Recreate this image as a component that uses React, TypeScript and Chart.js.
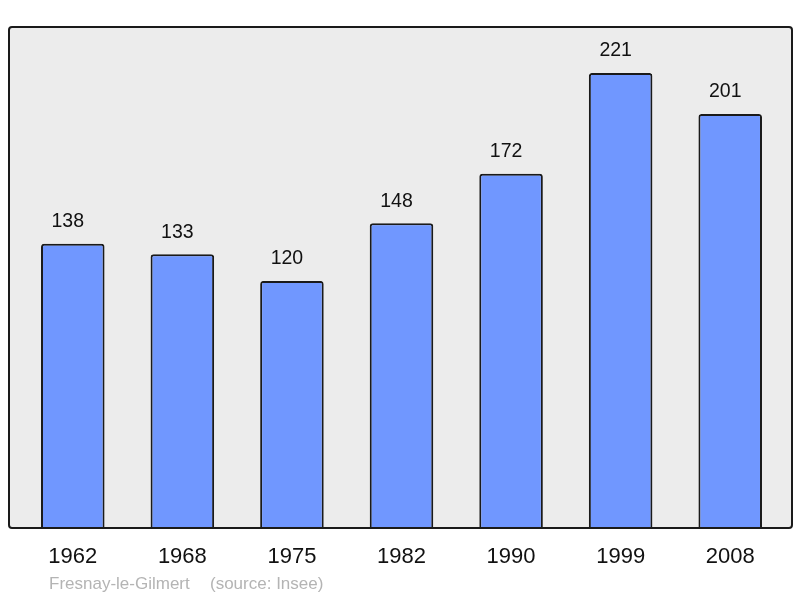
import { useEffect, useRef } from "react";
import { Chart, registerables } from "chart.js";

Chart.register(...registerables);

const years = ["1962", "1968", "1975", "1982", "1990", "1999", "2008"];
const population = [138, 133, 120, 148, 172, 221, 201];
const yMax = 243.3;
const townName = "Fresnay-le-Gilmert";
const sourceText = "(source: Insee)";

const FONT = "'Liberation Sans', Arial, sans-serif";

const framePlugin = {
  id: "frame",
  beforeDraw(chart: any) {
    const { ctx } = chart;
    ctx.save();
    ctx.fillStyle = "#ffffff";
    ctx.fillRect(0, 0, chart.width, chart.height);
    ctx.beginPath();
    ctx.roundRect(9, 27, 783, 501, 3);
    ctx.fillStyle = "#ececec";
    ctx.fill();
    ctx.restore();
  },
  afterDraw(chart: any) {
    const { ctx } = chart;
    const x = chart.scales.x;
    const y = chart.scales.y;
    ctx.save();
    ctx.beginPath();
    ctx.roundRect(9, 27, 783, 501, 3);
    ctx.lineWidth = 2;
    ctx.strokeStyle = "#1a1a1a";
    ctx.stroke();

    ctx.fillStyle = "#111111";
    ctx.textAlign = "center";
    ctx.textBaseline = "middle";
    ctx.font = `19.5px ${FONT}`;
    population.forEach((v, i) => {
      ctx.fillText(String(v), x.getPixelForValue(i) - 5, y.getPixelForValue(v) - 22);
    });
    ctx.font = `22px ${FONT}`;
    years.forEach((yr, i) => {
      ctx.fillText(yr, x.getPixelForValue(i), 557);
    });

    ctx.fillStyle = "#b4b4b4";
    ctx.textAlign = "left";
    ctx.font = `17px ${FONT}`;
    ctx.fillText(townName, 49, 584);
    ctx.fillText(sourceText, 210, 584);
    ctx.restore();
  },
};

export default function App() {
  const canvasRef = useRef<HTMLCanvasElement>(null);
  const chartRef = useRef<any>(null);

  useEffect(() => {
    document.body.style.margin = "0";
    if (!canvasRef.current) return;
    chartRef.current?.destroy();
    chartRef.current = new Chart(canvasRef.current, {
      type: "bar",
      data: {
        labels: years,
        datasets: [
          {
            data: population,
            backgroundColor: "#7097ff",
            borderColor: "#1a1a1a",
            borderWidth: 2,
            borderRadius: 3,
            borderSkipped: "start",
            barPercentage: 0.58,
            categoryPercentage: 1,
          },
        ],
      },
      options: {
        responsive: false,
        animation: false,
        devicePixelRatio: 1,
        layout: { padding: { left: 18, right: 15, top: 27, bottom: 70 } },
        plugins: { legend: { display: false }, tooltip: { enabled: false } },
        scales: {
          x: { display: false },
          y: { display: false, min: 0, max: yMax },
        },
      },
      plugins: [framePlugin],
    });
    return () => {
      chartRef.current?.destroy();
      chartRef.current = null;
    };
  }, []);

  return (
    <div style={{ position: "absolute", left: 0, top: 0, width: 800, height: 598 }}>
      <canvas ref={canvasRef} width={800} height={598} />
    </div>
  );
}
